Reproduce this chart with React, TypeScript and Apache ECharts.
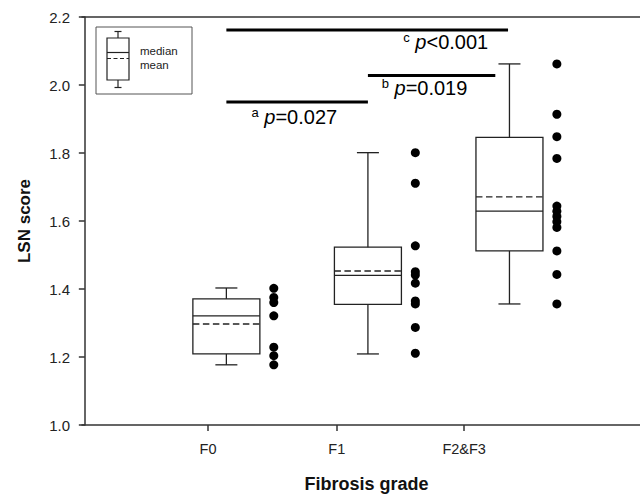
import React, { useEffect, useRef } from "react";
import * as echarts from "echarts";

// ---- data ----
const categories = ["F0", "F1", "F2&F3"];
const boxPositions = [1, 2, 3];
const tickPositions = [0.87, 1.78, 2.68];
const dotOffset = 0.335;

const whiskerLow = [1.177, 1.209, 1.356];
const q1 = [1.209, 1.355, 1.512];
const median = [1.321, 1.44, 1.629];
const mean = [1.297, 1.453, 1.671];
const q3 = [1.371, 1.523, 1.846];
const whiskerHigh = [1.403, 1.801, 2.062];

const pointsF0 = [1.402, 1.375, 1.36, 1.321, 1.229, 1.204, 1.177];
const pointsF1 = [1.801, 1.711, 1.527, 1.451, 1.441, 1.417, 1.365, 1.356, 1.287, 1.211];
const pointsF2F3 = [2.062, 1.914, 1.848, 1.784, 1.644, 1.629, 1.613, 1.598, 1.581, 1.512, 1.443, 1.356];
const groupPoints = [pointsF0, pointsF1, pointsF2F3];

const sigFrom = [1, 2, 1];
const sigTo = [2, 2.9, 2.99];
const sigY = [1.95, 2.028, 2.162];
const sigLetters = ["a", "b", "c"];
const sigText = ["=0.027", "=0.019", "<0.001"];
const sigLabelX = [1.48, 2.4, 2.55];
const sigLabelY = [1.906, 1.991, 2.126];

const FONT = 'Arial, "Liberation Sans", Helvetica, sans-serif';

export default function App() {
  const ref = useRef<HTMLDivElement>(null);

  useEffect(() => {
    if (!ref.current) return;
    const chart = echarts.init(ref.current, null, { renderer: "svg" });

    const boxData = boxPositions.map((x, i) => [
      x, whiskerLow[i], q1[i], median[i], q3[i], whiskerHigh[i], mean[i],
    ]);
    const dotData: number[][] = [];
    groupPoints.forEach((pts, i) => {
      pts.forEach((v) => dotData.push([boxPositions[i] + dotOffset, v]));
    });
    const sigData = sigFrom.map((f, i) => [f, sigTo[i], sigY[i], sigLabelX[i], sigLabelY[i], i]);

    const stroke = "#222";
    const lw = 1.3;
    const axisLineStyle = { color: "#333", width: 1.5 };

    const option: any = {
      animation: false,
      backgroundColor: "#fff",
      grid: {
        left: 82, top: 17, bottom: 69, right: -11,
        outerBoundsMode: "none",
        containLabel: false,
        show: false,
      },
      xAxis: [
        {
          type: "value",
          min: -0.02,
          max: 4.0,
          axisLine: { show: true, lineStyle: axisLineStyle },
          splitLine: { show: false },
          axisTick: { show: true, customValues: tickPositions, length: 6, lineStyle: axisLineStyle },
          axisLabel: {
            customValues: tickPositions,
            formatter: (v: number) => {
              const idx = tickPositions.findIndex((t) => Math.abs(t - v) < 1e-6);
              return idx >= 0 ? categories[idx] : "";
            },
            color: "#222", fontSize: 14.5, fontFamily: FONT, margin: 16,
          },
          name: "Fibrosis grade",
          nameLocation: "middle",
          nameGap: 50,
          nameTextStyle: { fontSize: 18, fontWeight: "bold", fontFamily: FONT, color: "#111" },
        },
        {
          type: "value",
          position: "top",
          min: -0.02,
          max: 4.0,
          axisLine: { show: true, onZero: false, lineStyle: axisLineStyle },
          axisTick: { show: false },
          axisLabel: { show: false },
          splitLine: { show: false },
        },
      ],
      yAxis: {
        type: "value",
        min: 1.0,
        max: 2.2,
        interval: 0.2,
        axisLine: { show: true, lineStyle: axisLineStyle },
        splitLine: { show: false },
        axisTick: { show: true, length: 6, lineStyle: axisLineStyle },
        axisLabel: {
          formatter: (v: number) => v.toFixed(1),
          color: "#222", fontSize: 15, fontFamily: FONT, margin: 12,
        },
        name: "LSN score",
        nameLocation: "middle",
        nameGap: 49,
        nameRotate: 90,
        nameTextStyle: { fontSize: 17, fontWeight: "bold", fontFamily: FONT, color: "#111" },
      },
      series: [
        {
          type: "custom",
          name: "box",
          data: boxData,
          encode: { x: 0, y: [1, 5] },
          renderItem: (params: any, api: any) => {
            const x = api.value(0);
            const pLow = api.coord([x, api.value(1)]);
            const pQ1 = api.coord([x, api.value(2)]);
            const pMed = api.coord([x, api.value(3)]);
            const pQ3 = api.coord([x, api.value(4)]);
            const pHigh = api.coord([x, api.value(5)]);
            const pMean = api.coord([x, api.value(6)]);
            const cx = pLow[0];
            const hw = 33.5;
            const cap = 11;
            const st = { stroke, lineWidth: lw, fill: "none" };
            return {
              type: "group",
              children: [
                { type: "line", shape: { x1: cx, y1: pHigh[1], x2: cx, y2: pQ3[1] }, style: st },
                { type: "line", shape: { x1: cx, y1: pQ1[1], x2: cx, y2: pLow[1] }, style: st },
                { type: "line", shape: { x1: cx - cap, y1: pHigh[1], x2: cx + cap, y2: pHigh[1] }, style: st },
                { type: "line", shape: { x1: cx - cap, y1: pLow[1], x2: cx + cap, y2: pLow[1] }, style: st },
                { type: "rect", shape: { x: cx - hw, y: pQ3[1], width: 2 * hw, height: pQ1[1] - pQ3[1] }, style: st },
                { type: "line", shape: { x1: cx - hw, y1: pMed[1], x2: cx + hw, y2: pMed[1] }, style: st },
                { type: "line", shape: { x1: cx - hw, y1: pMean[1], x2: cx + hw, y2: pMean[1] }, style: { ...st, lineDash: [6.5, 3.5] } },
              ],
            };
          },
          z: 2,
        },
        {
          type: "scatter",
          name: "points",
          data: dotData,
          symbol: "circle",
          symbolSize: 9,
          itemStyle: { color: "#000", opacity: 1 },
          z: 3,
        },
        {
          type: "custom",
          name: "significance",
          data: sigData,
          encode: { x: [0, 1], y: 2 },
          renderItem: (params: any, api: any) => {
            const a = api.coord([api.value(0), api.value(2)]);
            const b = api.coord([api.value(1), api.value(2)]);
            const t = api.coord([api.value(3), api.value(4)]);
            const i = api.value(5);
            return {
              type: "group",
              children: [
                { type: "line", shape: { x1: a[0], y1: a[1], x2: b[0], y2: b[1] }, style: { stroke: "#000", lineWidth: 3 } },
                {
                  type: "text",
                  x: t[0],
                  y: t[1],
                  style: {
                    text: `{s|${sigLetters[i]}}{n| }{p|p}{n|${sigText[i]}}`,
                    align: "center",
                    verticalAlign: "middle",
                    fill: "#000",
                    rich: {
                      s: { fontSize: 13, fontFamily: FONT, fill: "#000", verticalAlign: "top", lineHeight: 22 },
                      p: { fontSize: 20, fontFamily: FONT, fontStyle: "italic", fill: "#000", lineHeight: 22 },
                      n: { fontSize: 20, fontFamily: FONT, fill: "#000", lineHeight: 22 },
                    },
                  },
                },
              ],
            };
          },
          z: 4,
        },
      ],
      graphic: [
        { type: "rect", shape: { x: 96, y: 27, width: 96, height: 67 }, style: { fill: "#fff", stroke: "#555", lineWidth: 1 }, z: 10 },
        { type: "rect", shape: { x: 107, y: 38, width: 22, height: 42 }, style: { fill: "none", stroke: "#222", lineWidth: 1.2 }, z: 11 },
        { type: "line", shape: { x1: 118, y1: 31.5, x2: 118, y2: 38 }, style: { stroke: "#222", lineWidth: 1.2 }, z: 11 },
        { type: "line", shape: { x1: 118, y1: 80, x2: 118, y2: 87.5 }, style: { stroke: "#222", lineWidth: 1.2 }, z: 11 },
        { type: "line", shape: { x1: 114.5, y1: 31.5, x2: 121.5, y2: 31.5 }, style: { stroke: "#222", lineWidth: 1.2 }, z: 11 },
        { type: "line", shape: { x1: 114.5, y1: 87.5, x2: 121.5, y2: 87.5 }, style: { stroke: "#222", lineWidth: 1.2 }, z: 11 },
        { type: "line", shape: { x1: 107, y1: 52.5, x2: 129, y2: 52.5 }, style: { stroke: "#222", lineWidth: 1.2 }, z: 11 },
        { type: "line", shape: { x1: 107, y1: 58.5, x2: 129, y2: 58.5 }, style: { stroke: "#222", lineWidth: 1.2, lineDash: [4, 2.5] }, z: 11 },
        { type: "text", x: 140, y: 51, style: { text: "median", fontSize: 11.5, fontFamily: FONT, fill: "#222", verticalAlign: "middle" }, z: 11 },
        { type: "text", x: 140, y: 64.5, style: { text: "mean", fontSize: 11.5, fontFamily: FONT, fill: "#222", verticalAlign: "middle" }, z: 11 },
      ],
    };

    chart.setOption(option);
    return () => chart.dispose();
  }, []);

  return (
    <div
      ref={ref}
      style={{ position: "fixed", left: 0, top: 0, width: 640, height: 494, background: "#fff" }}
    />
  );
}
